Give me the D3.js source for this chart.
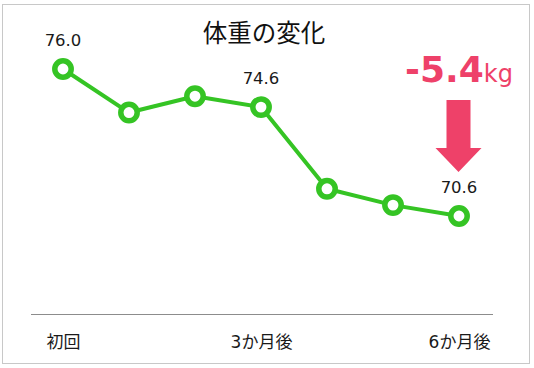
<!DOCTYPE html>
<html><head><meta charset="utf-8">
<script src="https://cdn.jsdelivr.net/npm/d3@7"></script>
<style>
html,body{margin:0;padding:0;background:#fff;}
svg{display:block;font-family:"DejaVu Sans","Noto Sans CJK JP",sans-serif;}
</style></head>
<body>
<svg id="c" width="534" height="368"></svg>
<script>
const title = "体重の変化";
const points = ["1","2","3","4","5","6","7"];
const weights = [76.0, 74.4, 75.0, 74.6, 71.6, 71.0, 70.6];
const tickIndex = [0, 3, 6];
const tickLabels = ["初回", "3か月後", "6か月後"];
const labelIndex = [0, 3, 6];
const diffValue = "-5.4";
const diffUnit = "kg";

const svg = d3.select("#c");
const green = "#35c424", pink = "#ee4169";

svg.append("rect").attr("x",2.5).attr("y",4.5).attr("width",527).attr("height",359)
  .attr("fill","#fff").attr("stroke","#c8c8c8").attr("stroke-width",1);

const x = d3.scalePoint().domain(points).range([63, 459]);
const y = d3.scaleLinear().domain([67, 76]).range([314, 69]);

svg.append("line").attr("x1",31).attr("x2",493).attr("y1",314.5).attr("y2",314.5)
  .attr("stroke","#8c8c8c").attr("stroke-width",1);

const xAxis = d3.axisBottom(x).tickValues(tickIndex.map(i=>points[i]))
  .tickFormat((d)=>tickLabels[tickIndex.indexOf(points.indexOf(d))]).tickSize(0).tickPadding(0);
const gx = svg.append("g").attr("transform","translate(0,348)").call(xAxis);
gx.select(".domain").remove();
gx.selectAll("text").attr("dy",0).attr("font-size",17).attr("fill","#1a1a1a")
  .attr("font-family",'"DejaVu Sans","Noto Sans CJK JP",sans-serif');

svg.append("text").attr("x",264).attr("y",42).attr("text-anchor","middle")
  .attr("font-size",24.5).attr("fill","#111").attr("font-family",'"Noto Sans CJK JP",sans-serif')
  .text(title);

const line = d3.line().x((d,i)=>x(points[i])).y(d=>y(d));
svg.append("path").datum(weights).attr("d",line).attr("fill","none")
  .attr("stroke",green).attr("stroke-width",4).attr("stroke-linejoin","round");

svg.selectAll("circle.pt").data(weights).enter().append("circle")
  .attr("cx",(d,i)=>x(points[i])).attr("cy",d=>y(d)).attr("r",8.2)
  .attr("fill","#fff").attr("stroke",green).attr("stroke-width",5.5);

svg.selectAll("text.lbl").data(labelIndex).enter().append("text")
  .attr("x",i=>x(points[i])).attr("y",i=>y(weights[i])-23).attr("text-anchor","middle")
  .attr("font-size",16.5).attr("fill","#1a1a1a").text(i=>weights[i].toFixed(1));

const t = svg.append("text").attr("x",459).attr("y",82).attr("text-anchor","middle").attr("fill",pink);
t.append("tspan").attr("font-size",36).attr("font-weight","bold").text(diffValue);
t.append("tspan").attr("font-size",24).text(diffUnit);

const ax = 458.5;
svg.append("path").attr("fill",pink)
  .attr("d",`M${ax-12},100 L${ax+12},100 L${ax+12},148 L${ax+23},148 L${ax},172 L${ax-23},148 L${ax-12},148 Z`);
</script>
</body></html>
